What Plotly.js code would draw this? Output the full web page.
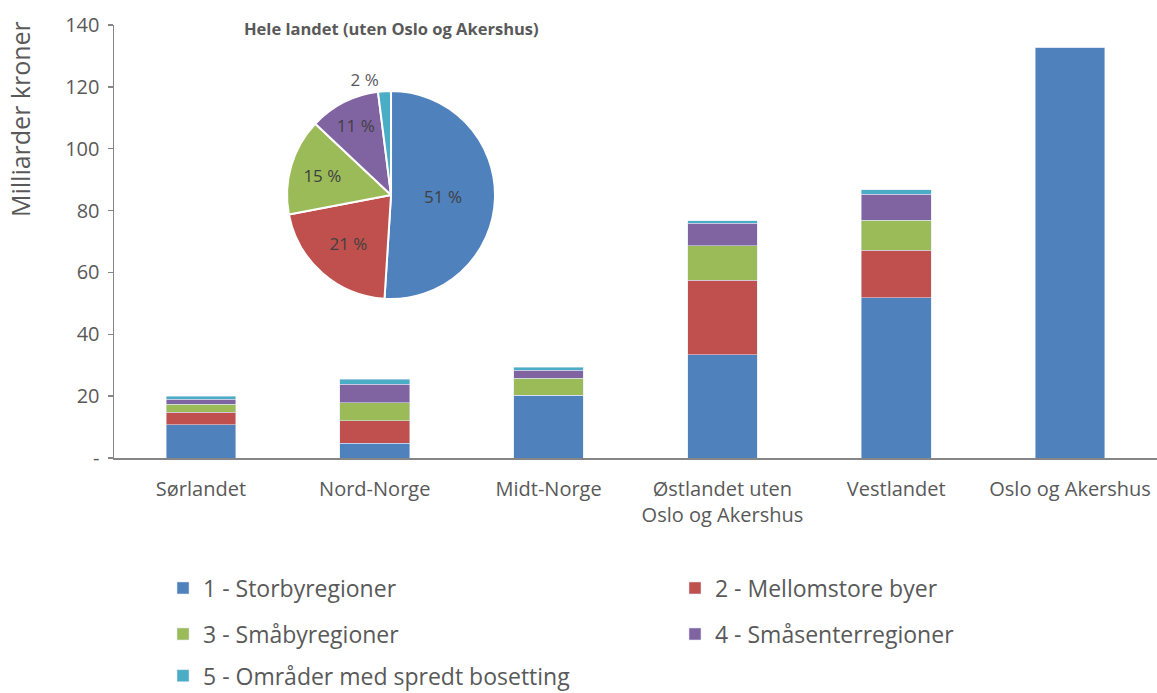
<!DOCTYPE html>
<html>
<head>
<meta charset="utf-8">
<script src="https://cdn.plot.ly/plotly-3.0.1.min.js"></script>
<style>html,body{margin:0;padding:0;background:#fff}</style>
</head>
<body>
<div id="chart" style="width:1157px;height:693px"></div>
<script>
var categories = ["Sørlandet", "Nord-Norge", "Midt-Norge", "Østlandet uten<br>Oslo og Akershus", "Vestlandet", "Oslo og Akershus"];
var seriesNames = ["1 - Storbyregioner", "2 - Mellomstore byer", "3 - Småbyregioner", "4 - Småsenterregioner", "5 - Områder med spredt bosetting"];
var storby      = [10.7, 4.7, 20.3, 33.4, 51.8, 132.6];
var mellomstore = [4.1, 7.3, 0, 24.0, 15.4, 0];
var smaaby      = [2.5, 5.9, 5.5, 11.3, 9.7, 0];
var smaasenter  = [1.7, 6.0, 2.6, 7.2, 8.4, 0];
var spredt      = [1.0, 1.5, 1.0, 0.8, 1.4, 0];
var pieLabels = seriesNames;
var pieValues = [51, 21, 15, 11, 2];
var pieTitle = "Hele landet (uten Oslo og Akershus)";
var yTickVals = [0, 20, 40, 60, 80, 100, 120, 140];
var yTickText = ["-", "20", "40", "60", "80", "100", "120", "140"];
var yTitle = "Milliarder kroner";

var colors = ["#4F81BD", "#C0504D", "#9BBB59", "#8064A2", "#4BACC6"];
var series = [storby, mellomstore, smaaby, smaasenter, spredt];
var legendIds = ["legend", "legend2", "legend3", "legend4", "legend5"];
var legendX = [0.1409, 0.5834, 0.1409, 0.5834, 0.1409];
var legendY = [0.1515, 0.1515, 0.0851, 0.0851, 0.0250];
var FONT = "Open Sans, sans-serif";
var TXT = "#595959";

var traces = series.map(function (vals, i) {
  return {
    type: "bar", x: categories, y: vals, name: seriesNames[i],
    marker: {color: colors[i], line: {color: "rgba(220,230,245,0.9)", width: 0.6}},
    legend: legendIds[i], hoverinfo: "skip"
  };
});

traces.push({
  type: "pie", labels: pieLabels, values: pieValues, sort: false,
  direction: "clockwise", rotation: 0,
  marker: {colors: colors, line: {color: "#ffffff", width: 2}},
  texttemplate: "%{value} %", textinfo: "text",
  textposition: ["inside", "inside", "inside", "inside", "outside"],
  insidetextorientation: "horizontal",
  textfont: {family: FONT, size: 17, color: ["#404040", "#404040", "#404040", "#404040", TXT]},
  domain: {x: [0.1659, 0.3653], y: [0.3672, 0.8476]},
  showlegend: false, hoverinfo: "skip"
});

var layout = {
  width: 1157, height: 693,
  margin: {l: 114, r: 0, t: 25, b: 235},
  paper_bgcolor: "#ffffff", plot_bgcolor: "#ffffff",
  barmode: "stack", bargap: 0.6,
  font: {family: FONT, color: TXT},
  xaxis: {
    showgrid: false, zeroline: false, showline: true, linecolor: "#868686", linewidth: 2,
    ticks: "", ticklabelstandoff: 12, tickfont: {family: FONT, size: 20, color: TXT}, fixedrange: true
  },
  yaxis: {
    range: [0, 140], tickvals: yTickVals, ticktext: yTickText,
    showgrid: false, zeroline: false, showline: true, linecolor: "#868686", linewidth: 1.5,
    ticks: "outside", ticklen: 5, tickcolor: "#868686", tickwidth: 1.5, ticklabelstandoff: 4,
    tickfont: {family: FONT, size: 20, color: TXT}, fixedrange: true
  },
  showlegend: true,
  annotations: [
    {text: "<b>" + pieTitle + "</b>", xref: "paper", yref: "paper", x: 0.2656, y: 0.9908,
     xanchor: "center", yanchor: "middle", showarrow: false,
     font: {family: FONT, size: 16.5, color: TXT}},
    {text: yTitle, xref: "paper", yref: "paper", x: -0.0901, y: 0.7829, textangle: -90,
     xanchor: "center", yanchor: "middle", showarrow: false,
     font: {family: FONT, size: 25, color: TXT}}
  ]
};

legendIds.forEach(function (id, i) {
  layout[id] = {
    orientation: "h", xref: "container", yref: "container",
    xanchor: "left", yanchor: "middle", x: legendX[i], y: legendY[i],
    font: {family: FONT, size: 23, color: TXT}, bgcolor: "rgba(0,0,0,0)"
  };
});

Plotly.newPlot("chart", traces, layout, {displayModeBar: false, staticPlot: true});
</script>
</body>
</html>
